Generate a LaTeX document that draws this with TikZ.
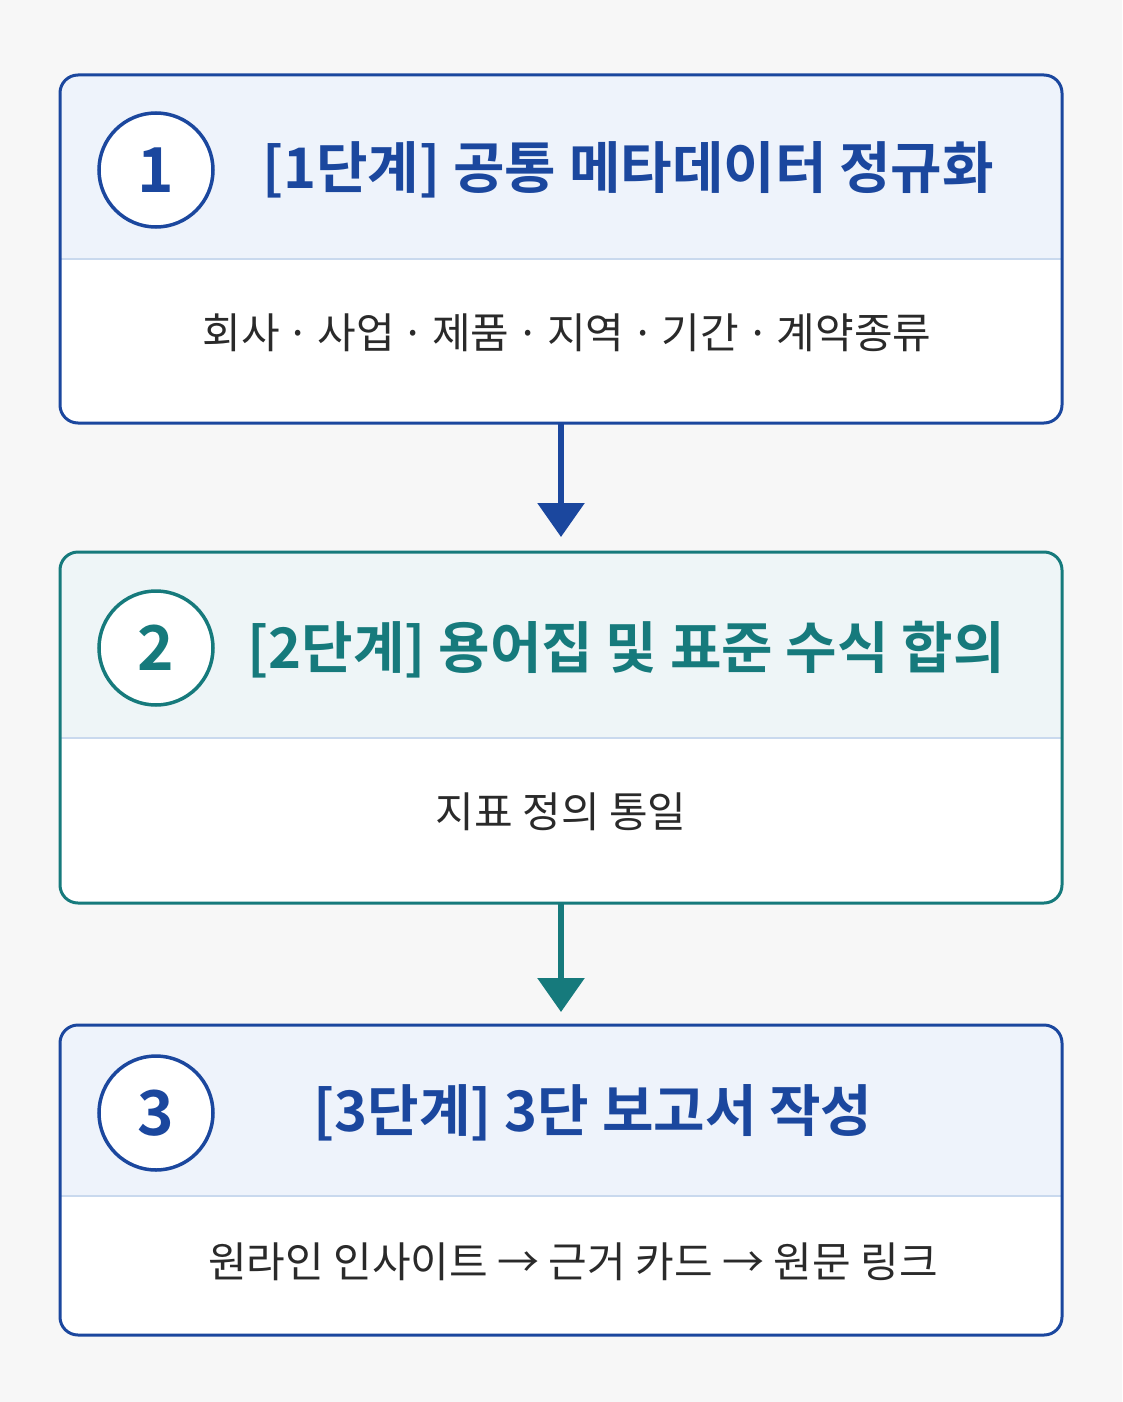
\documentclass[tikz,border=0pt]{standalone}
\usepackage{fontspec}
\newfontfamily\kr{Noto Sans CJK KR}
\newfontfamily\krb{Noto Sans CJK KR Bold}
\usetikzlibrary{positioning,arrows.meta}
\definecolor{stepblue}{HTML}{1B479E}
\definecolor{stepteal}{HTML}{167A7C}
\definecolor{headfill}{HTML}{EEF3FB}
\definecolor{headteal}{HTML}{EEF5F7}
\definecolor{divline}{HTML}{C9D9EE}
\definecolor{bodytext}{HTML}{2A2A2A}
\begin{document}
\begin{tikzpicture}[x=1pt,y=-1pt,
	stepbox/.style={draw, line width=3pt, rounded corners=18pt},
	stepnum/.style={circle, draw, line width=3.5pt, fill=white, minimum size=114pt, inner sep=0pt, font=\krb\fontsize{62}{62}\selectfont},
	steptitle/.style={font=\krb\fontsize{56}{56}\selectfont, anchor=center},
	stepbody/.style={font=\kr\fontsize{42}{42}\selectfont, text=bodytext},
	flow/.style={line width=6pt, -{Triangle[width=46pt,length=34pt]}}]

	\useasboundingbox (0,0) rectangle (1122,1402);
	\fill[white!97!black] (0,0) rectangle (1122,1402);

	%step 1
	\fill[white, rounded corners=18pt] (60,75) rectangle (1062,423);
	\fill[headfill, rounded corners=18pt] (60,75) rectangle (1062,259);
	\fill[headfill] (60,200) rectangle (1062,259);
	\draw[divline, line width=1.5pt] (60,259) -- (1062,259);
	\draw[stepbox, stepblue] (60,75) rectangle (1062,423);
	\node[stepnum, draw=stepblue, text=stepblue] (n1) at (156,170) {1};
	\node[steptitle, text=stepblue] (t1) at (628,170) {[1단계] 공통 메타데이터 정규화};
	\node[stepbody] (b1) at (567,333) {회사\,·\,사업\,·\,제품\,·\,지역\,·\,기간\,·\,계약종류};
	\coordinate (s1) at (561,423);

	%step 2
	\fill[white, rounded corners=18pt] (60,552) rectangle (1062,903);
	\fill[headteal, rounded corners=18pt] (60,552) rectangle (1062,738);
	\fill[headteal] (60,680) rectangle (1062,738);
	\draw[divline, line width=1.5pt] (60,738) -- (1062,738);
	\draw[stepbox, stepteal] (60,552) rectangle (1062,903);
	\node[stepnum, draw=stepteal, text=stepteal] (n2) at (156,648) {2};
	\node[steptitle, text=stepteal] (t2) at (626,650) {[2단계] 용어집 및 표준 수식 합의};
	\node[stepbody] (b2) at (561,812) {지표 정의 통일};
	\coordinate (e2) at (561,537);
	\coordinate (s2) at (561,903);

	%step 3
	\fill[white, rounded corners=18pt] (60,1025) rectangle (1062,1335);
	\fill[headfill, rounded corners=18pt] (60,1025) rectangle (1062,1196);
	\fill[headfill] (60,1140) rectangle (1062,1196);
	\draw[divline, line width=1.5pt] (60,1196) -- (1062,1196);
	\draw[stepbox, stepblue] (60,1025) rectangle (1062,1335);
	\node[stepnum, draw=stepblue, text=stepblue] (n3) at (156,1113) {3};
	\node[steptitle, text=stepblue] (t3) at (593,1113) {[3단계] 3단 보고서 작성};
	\node[stepbody] (b3) at (573,1262) {원라인 인사이트 → 근거 카드 → 원문 링크};
	\coordinate (e3) at (561,1012);

	%arrows
	\draw[flow, stepblue] (s1) -- (e2);
	\draw[flow, stepteal] (s2) -- (e3);
\end{tikzpicture}
\end{document}
